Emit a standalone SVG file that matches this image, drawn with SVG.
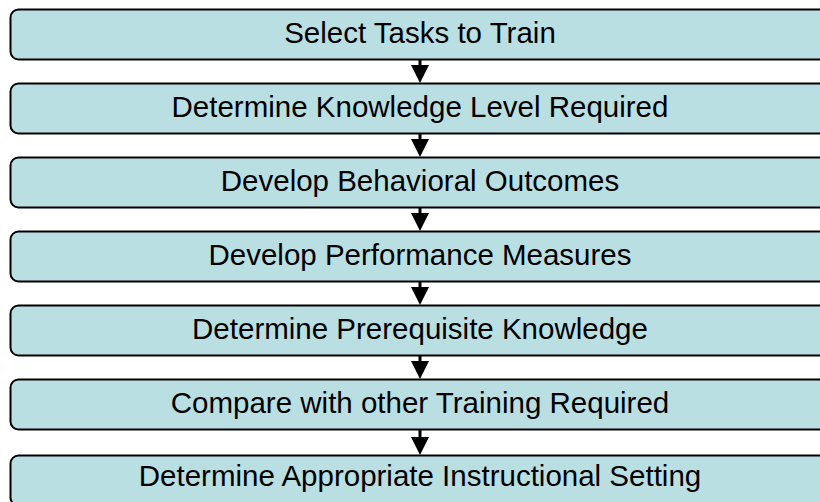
<svg xmlns="http://www.w3.org/2000/svg" width="820" height="502" viewBox="0 0 820 502">
<style>
.box{fill:#b9dfe3;stroke:#000;stroke-width:2}
.lbl{font-family:"Liberation Sans",Arial,sans-serif;font-size:29.5px;fill:#000;text-anchor:middle}
.shaft{stroke:#000;stroke-width:3}
.head{fill:#000}
</style>
<rect width="820" height="502" fill="#fff"/>
<g id="n1"><rect class="box" x="10.5" y="9.5" width="820" height="50" rx="8"/><text class="lbl" x="420" y="42.5">Select Tasks to Train</text></g>
<g id="n2"><rect class="box" x="10.5" y="83.5" width="820" height="50" rx="8"/><text class="lbl" x="420" y="116.5">Determine Knowledge Level Required</text></g>
<g id="n3"><rect class="box" x="10.5" y="157.5" width="820" height="50" rx="8"/><text class="lbl" x="420" y="190.5">Develop Behavioral Outcomes</text></g>
<g id="n4"><rect class="box" x="10.5" y="231.5" width="820" height="50" rx="8"/><text class="lbl" x="420" y="264.5">Develop Performance Measures</text></g>
<g id="n5"><rect class="box" x="10.5" y="305.5" width="820" height="50" rx="8"/><text class="lbl" x="420" y="338.5">Determine Prerequisite Knowledge</text></g>
<g id="n6"><rect class="box" x="10.5" y="379.5" width="820" height="50" rx="8"/><text class="lbl" x="420" y="412.5">Compare with other Training Required</text></g>
<g id="n7"><rect class="box" x="10.5" y="455.5" width="820" height="50" rx="8"/><text class="lbl" x="420" y="486">Determine Appropriate Instructional Setting</text></g>
<g id="connectors">
<line class="shaft" x1="420" y1="60" x2="420" y2="66"/><polygon class="head" points="411,65 429,65 420,83"/>
<line class="shaft" x1="420" y1="134" x2="420" y2="140"/><polygon class="head" points="411,139 429,139 420,157"/>
<line class="shaft" x1="420" y1="208" x2="420" y2="214"/><polygon class="head" points="411,213 429,213 420,231"/>
<line class="shaft" x1="420" y1="282" x2="420" y2="288"/><polygon class="head" points="411,287 429,287 420,305"/>
<line class="shaft" x1="420" y1="356" x2="420" y2="362"/><polygon class="head" points="411,361 429,361 420,379"/>
<line class="shaft" x1="420" y1="430" x2="420" y2="438"/><polygon class="head" points="411,437 429,437 420,455"/>
</g>
</svg>
